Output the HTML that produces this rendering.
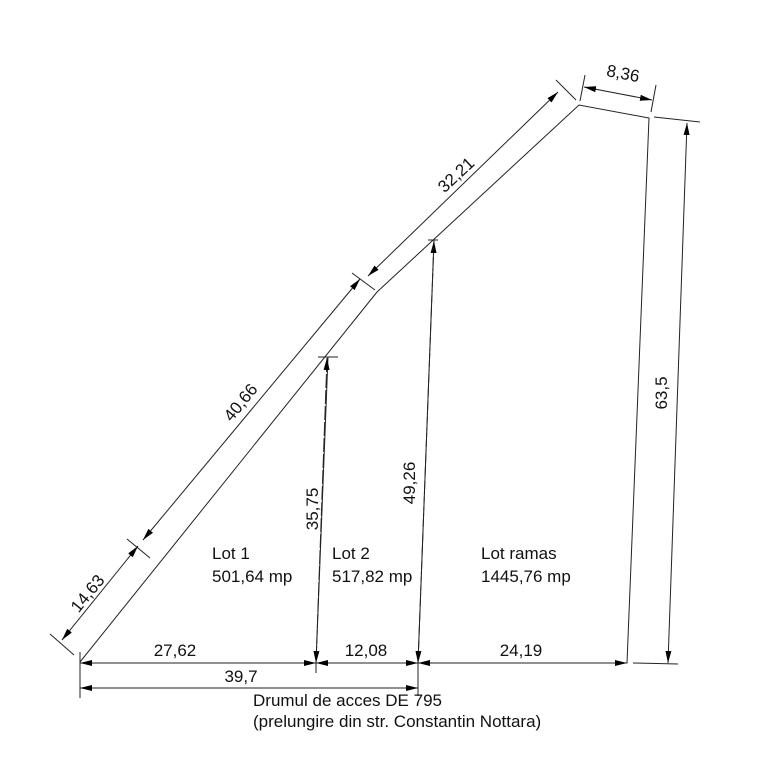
<!DOCTYPE html>
<html><head><style>
html,body{margin:0;padding:0;background:#fff;}
svg{display:block;}
text{font-family:"Liberation Sans",sans-serif;fill:#111;}
</style></head><body>
<svg width="775" height="768" viewBox="0 0 775 768" xmlns="http://www.w3.org/2000/svg">
<defs>
<marker id="a" viewBox="0 0 12 6" refX="12" refY="3" markerWidth="12" markerHeight="6" markerUnits="userSpaceOnUse" orient="auto-start-reverse">
<path d="M0,0 L12,3 L0,6 Z" fill="#000"/>
</marker>
</defs>
<g stroke="#222" stroke-width="1" fill="none">
<polyline points="80,662 377,292 579,105 649,118 627,663 80,663"/>
<line x1="328" y1="357" x2="316" y2="663"/>
<line x1="434" y1="240" x2="418" y2="663"/>
<line x1="318" y1="357" x2="338" y2="357"/>
<line x1="428" y1="240" x2="438" y2="240"/>
<line x1="62" y1="640" x2="138" y2="546" marker-start="url(#a)" marker-end="url(#a)"/>
<line x1="143" y1="540" x2="360" y2="279" marker-start="url(#a)" marker-end="url(#a)"/>
<line x1="368" y1="276" x2="558" y2="92" marker-start="url(#a)" marker-end="url(#a)"/>
<line x1="50" y1="634" x2="74" y2="655"/>
<line x1="127" y1="539" x2="150" y2="558"/>
<line x1="352" y1="273" x2="375" y2="290"/>
<line x1="556" y1="80" x2="576" y2="100"/>
<line x1="584" y1="87" x2="652" y2="100" marker-start="url(#a)" marker-end="url(#a)"/>
<line x1="585" y1="75" x2="580" y2="101"/>
<line x1="656" y1="85" x2="651" y2="112"/>
<line x1="654" y1="117" x2="700" y2="122"/>
<line x1="633" y1="663" x2="678" y2="664"/>
<line x1="687" y1="123" x2="668" y2="663" marker-start="url(#a)" marker-end="url(#a)"/>
<line x1="327" y1="358" x2="316" y2="663" stroke-dasharray="14,2" marker-start="url(#a)" marker-end="url(#a)"/>
<line x1="434" y1="241" x2="418" y2="663" stroke-dasharray="14,2" marker-start="url(#a)" marker-end="url(#a)"/>
<line x1="80" y1="663" x2="316" y2="663" marker-start="url(#a)" marker-end="url(#a)"/>
<line x1="316" y1="663" x2="418" y2="663" marker-start="url(#a)" marker-end="url(#a)"/>
<line x1="418" y1="663" x2="627" y2="663" marker-start="url(#a)" marker-end="url(#a)"/>
<line x1="80" y1="688" x2="418" y2="688" marker-start="url(#a)" marker-end="url(#a)"/>
<line x1="80" y1="652" x2="80" y2="698"/>
<line x1="316" y1="663" x2="316" y2="673"/>
<line x1="418" y1="663" x2="418" y2="696"/>
</g>
<g font-size="17">
<text x="212" y="559">Lot 1</text>
<text x="212" y="582">501,64 mp</text>
<text x="332" y="559">Lot 2</text>
<text x="332" y="582">517,82 mp</text>
<text x="481" y="559">Lot ramas</text>
<text x="481" y="582">1445,76 mp</text>
<text x="175" y="656" text-anchor="middle">27,62</text>
<text x="366" y="656" text-anchor="middle">12,08</text>
<text x="521" y="656" text-anchor="middle">24,19</text>
<text x="241" y="682" text-anchor="middle">39,7</text>
<text x="253" y="706">Drumul de acces DE 795</text>
<text x="253" y="727">(prelungire din str. Constantin Nottara)</text>
<text transform="translate(92,597) rotate(-51)" text-anchor="middle">14,63</text>
<text transform="translate(245,406) rotate(-51)" text-anchor="middle">40,66</text>
<text transform="translate(460,179) rotate(-43)" text-anchor="middle">32,21</text>
<text transform="translate(622,79) rotate(11)" text-anchor="middle">8,36</text>
<text transform="translate(318,509) rotate(-90)" text-anchor="middle">35,75</text>
<text transform="translate(415,483) rotate(-90)" text-anchor="middle">49,26</text>
<text transform="translate(667,393) rotate(-90)" text-anchor="middle">63,5</text>
</g>
</svg>
</body></html>
